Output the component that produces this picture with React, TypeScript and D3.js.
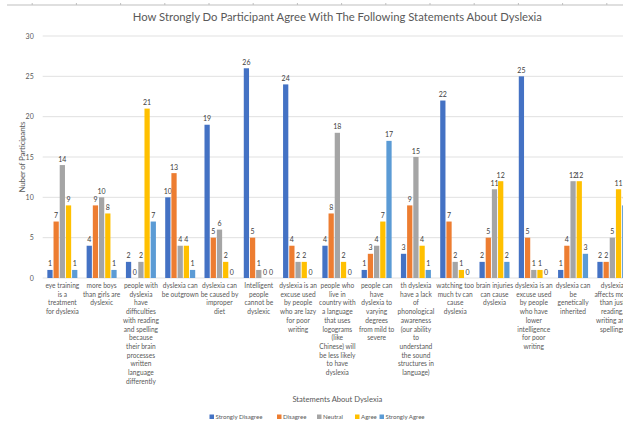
import { useEffect, useRef } from 'react';
import * as d3 from 'd3';

const categories = [
  'eye training\nis a\ntreatment\nfor dyslexia',
  'more boys\nthan girls are\ndyslexic',
  'people with\ndyslexia\nhave\ndifficulties\nwith reading\nand spelling\nbecause\ntheir brain\nprocesses\nwritten\nlanguage\ndifferently',
  'dyslexia can\nbe outgrown',
  'dyslexia can\nbe caused by\nimproper\ndiet',
  'Intelligent\npeople\ncannot be\ndyslexic',
  'dyslexia is an\nexcuse used\nby people\nwho are lazy\nfor poor\nwriting',
  'people who\nlive in\ncountry with\na language\nthat uses\nlogograms\n(like\nChinese) will\nbe less likely\nto have\ndyslexia',
  'people can\nhave\ndyslexia to\nvarying\ndegrees\nfrom mild to\nsevere',
  'th dyslexia\nhave a lack\nof\nphonological\nawareness\n(our ability\nto\nunderstand\nthe sound\nstructures in\nlanguage)',
  'watching too\nmuch tv can\ncause\ndyslexia',
  'brain injuries\ncan cause\ndyslexia',
  'dyslexia is an\nexcuse used\nby people\nwho have\nlower\nintelligence\nfor poor\nwriting',
  'dyslexia can\nbe\ngenetically\ninherited',
  'dyslexia\naffects more\nthan just\nreading,\nwriting and\nspellings',
];

const seriesNames = ['Strongly Disagree', 'Disagree', 'Neutral', 'Agree', 'Strongly Agree'];
const seriesColors = ['#4472C4', '#ED7D31', '#A5A5A5', '#FFC000', '#5B9BD5'];

const stronglyDisagree = [1, 4, 2, 10, 19, 26, 24, 4, 1, 3, 22, 2, 25, 1, 2];
const disagree = [7, 9, 0, 13, 5, 5, 4, 8, 3, 9, 7, 5, 5, 4, 2];
const neutral = [14, 10, 2, 4, 6, 1, 2, 18, 4, 15, 2, 11, 1, 12, 5];
const agree = [9, 8, 21, 4, 2, 0, 2, 2, 7, 4, 1, 12, 1, 12, 11];
const stronglyAgree = [1, 1, 7, 1, 0, 0, 0, 0, 17, 1, 0, 2, 0, 3, 9];

const yTicks = [0, 5, 10, 15, 20, 25, 30];

const chartTitle = 'How Strongly Do Participant Agree With The Following Statements About Dyslexia';
const xTitle = 'Statements About Dyslexia';
const yTitle = 'Nuber of Participants';

function App() {
  const ref = useRef(null);

  const svgWidth = 623;
  const svgHeight = 424;

  useEffect(() => {
    getChart();
  }, []);

  function getChart() {
    const left = 42.7;
    const right = 632;
    const top = 36;
    const bottom = 278;
    const font = 'Lato, "Open Sans", sans-serif';

    const svg = d3.select(ref.current);
    svg.selectAll('*').remove();
    svg.attr('font-family', font);

    // Leftover axis of the chart above
    const topScale = d3.scaleLinear().domain([0, 13]).range([31.7, 31.7 + 13 * 44.2]);
    const topAxis = svg
      .append('g')
      .attr('transform', 'translate(0, 5)')
      .call(d3.axisTop(topScale).ticks(13).tickFormat(() => '').tickSize(2).tickSizeOuter(0));
    topAxis.select('.domain').attr('stroke', '#BFBFBF').attr('d', `M7,0H${svgWidth}`);
    topAxis.selectAll('.tick line').attr('stroke', '#BFBFBF');

    // Title
    svg
      .append('text')
      .attr('x', (left + right) / 2)
      .attr('y', 21)
      .attr('text-anchor', 'middle')
      .attr('font-size', 11.3)
      .attr('fill', '#595959')
      .text(chartTitle);

    const series = [stronglyDisagree, disagree, neutral, agree, stronglyAgree];

    const x0 = d3.scaleBand().domain(categories).range([left, right]).padding(0);
    const groupWidth = 30;
    const x1 = d3
      .scaleBand()
      .domain(seriesNames)
      .range([(x0.bandwidth() - groupWidth) / 2, (x0.bandwidth() + groupWidth) / 2])
      .paddingInner(0.15);
    const y = d3.scaleLinear().domain([0, 30]).range([bottom, top]);

    // Gridlines
    svg
      .append('g')
      .selectAll('line')
      .data(yTicks)
      .join('line')
      .attr('x1', left)
      .attr('x2', svgWidth)
      .attr('y1', (d) => y(d))
      .attr('y2', (d) => y(d))
      .attr('stroke', '#D9D9D9')
      .attr('stroke-width', 0.8);

    // Y-axis
    const yAxis = svg
      .append('g')
      .attr('transform', `translate(${left - 6}, 0)`)
      .call(d3.axisLeft(y).tickValues(yTicks).tickSize(0));
    yAxis.select('.domain').remove();
    yAxis
      .selectAll('text')
      .attr('font-family', font)
      .attr('font-size', 7)
      .attr('fill', '#595959');

    // Y-axis legend
    svg
      .append('text')
      .attr('transform', 'rotate(-90)')
      .attr('x', -(top + bottom) / 2)
      .attr('y', 24.5)
      .attr('text-anchor', 'middle')
      .attr('font-size', 8)
      .attr('textLength', 71)
      .attr('lengthAdjust', 'spacing')
      .attr('fill', '#595959')
      .text(yTitle);

    // Bars
    const groups = svg
      .append('g')
      .selectAll('g')
      .data(categories)
      .join('g')
      .attr('transform', (d) => `translate(${x0(d)}, 0)`);

    groups.each(function (_c, ci) {
      const g = d3.select(this);
      seriesNames.forEach((name, si) => {
        const v = series[si][ci];
        g.append('rect')
          .attr('x', x1(name) as number)
          .attr('y', y(v))
          .attr('width', x1.bandwidth())
          .attr('height', y(0) - y(v))
          .attr('fill', seriesColors[si]);
        g.append('text')
          .attr('x', (x1(name) as number) + x1.bandwidth() / 2)
          .attr('y', y(v) - 3.5)
          .attr('text-anchor', 'middle')
          .attr('font-size', 7)
          .attr('fill', '#404040')
          .text(v);
      });
    });

    // Category labels
    const labels = svg
      .append('g')
      .selectAll('text')
      .data(categories)
      .join('text')
      .attr('x', (d) => (x0(d) as number) + x0.bandwidth() / 2)
      .attr('y', bottom + 10)
      .attr('text-anchor', 'middle')
      .attr('font-size', 6.6)
      .attr('fill', '#595959');
    labels
      .selectAll('tspan')
      .data((d) => d.split('\n'))
      .join('tspan')
      .attr('x', function () {
        return (this.parentNode as SVGTextElement).getAttribute('x');
      })
      .attr('dy', (_d, i) => (i === 0 ? 0 : 8.7))
      .text((d) => d);

    // X-axis legend
    svg
      .append('text')
      .attr('x', (left + right) / 2)
      .attr('y', 402)
      .attr('text-anchor', 'middle')
      .attr('font-size', 7.6)
      .attr('fill', '#595959')
      .text(xTitle);

    // Legend
    const legendX = [209.5, 277, 317, 355, 379.5];
    const legend = svg
      .append('g')
      .selectAll('g')
      .data(seriesNames)
      .join('g')
      .attr('transform', (_d, i) => `translate(${legendX[i]}, 419)`);
    legend
      .append('rect')
      .attr('x', 0)
      .attr('y', -4.5)
      .attr('width', 4.5)
      .attr('height', 4.5)
      .attr('fill', (_d, i) => seriesColors[i]);
    legend
      .append('text')
      .attr('x', 6)
      .attr('y', 0)
      .attr('font-size', 6.1)
      .attr('fill', '#595959')
      .text((d) => d);
  }

  return (
    <svg
      ref={ref}
      width={svgWidth}
      height={svgHeight}
      style={{ position: 'absolute', left: 0, top: 0, background: '#fff' }}
    ></svg>
  );
}

export default App;
